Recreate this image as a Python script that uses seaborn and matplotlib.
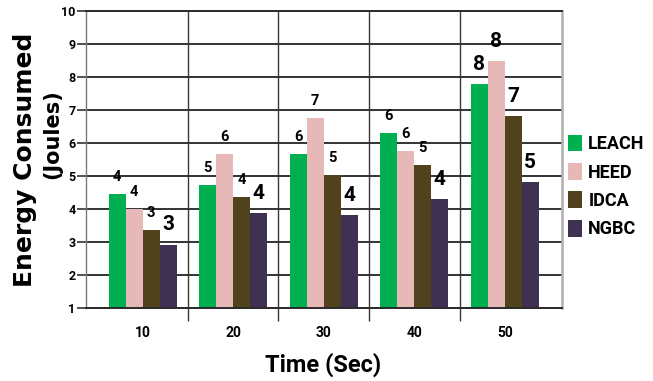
import matplotlib
matplotlib.use("Agg")
import matplotlib.pyplot as plt
from matplotlib import font_manager
from matplotlib.patches import Patch
import numpy as np
import pandas as pd
import seaborn as sns

# Energy consumed per protocol over simulation time
times = ["10", "20", "30", "40", "50"]
protocols = ["LEACH", "HEED", "IDCA", "NGBC"]
leach = [4.46, 4.73, 5.67, 6.30, 7.79]
heed = [4.00, 5.67, 6.76, 5.76, 8.48]
idca = [3.37, 4.37, 5.03, 5.34, 6.82]
ngbc = [2.92, 3.88, 3.82, 4.31, 4.81]
y_ticks = [1, 2, 3, 4, 5, 6, 7, 8, 9, 10]

colors = {"LEACH": "#00B050", "HEED": "#E6B8B7", "IDCA": "#50421C", "NGBC": "#3F3151"}

series = {"LEACH": leach, "HEED": heed, "IDCA": idca, "NGBC": ngbc}
df = pd.DataFrame(
    [(t, p, v) for p in protocols for t, v in zip(times, series[p])],
    columns=["Time", "Protocol", "Energy"],
)

sns.set_style("white")
installed = {f.name for f in font_manager.fontManager.ttflist}
main_font = "Roboto" if "Roboto" in installed else "DejaVu Sans"
plt.rcParams["font.family"] = [main_font, "DejaVu Sans"]
plt.rcParams["text.color"] = "black"
plt.rcParams["xtick.color"] = "black"
plt.rcParams["ytick.color"] = "black"

W, H = 653, 381
fig = plt.figure(figsize=(W / 100, H / 100), dpi=100)
ax = fig.add_axes([85.7 / W, 1 - 308.3 / H, 476 / W, 297.3 / H])

sns.barplot(
    data=df, x="Time", y="Energy", hue="Protocol", order=times,
    hue_order=protocols, palette=colors, width=0.75, gap=0,
    saturation=1, ax=ax, legend=False, errorbar=None,
    edgecolor="none", linewidth=0,
)

ax.set_ylim(1, 10)
ax.set_xlim(-0.628, 4.628)
ax.set_yticks(y_ticks)
ax.set_axisbelow(True)

# horizontal gridlines and category separators
ax.yaxis.grid(True, color="#333333", lw=1.4)
ax.set_xticks([0.5, 1.5, 2.5, 3.5], minor=True)
ax.xaxis.grid(True, which="minor", color="#3a3a3a", lw=1.0)
ax.tick_params(axis="x", which="minor", direction="out", length=9.5, width=1.0,
               color="#3a3a3a", bottom=True)
ax.tick_params(axis="x", which="major", length=0, pad=13, labelsize=10)
ax.tick_params(axis="y", direction="out", length=6.5, width=1.2, color="#333333",
               pad=0.8, labelsize=9, left=True)
for lab in ax.get_xticklabels() + ax.get_yticklabels():
    lab.set_fontweight("bold")

for side in ["top", "bottom"]:
    ax.spines[side].set_color("#2a2a2a")
    ax.spines[side].set_linewidth(1.4)
ax.spines["left"].set_color("#777777")
ax.spines["left"].set_linewidth(1.0)
ax.spines["right"].set_color("#b0b0b0")
ax.spines["right"].set_linewidth(1.8)

ax.set_xlabel("")
ax.set_ylabel("")

# value labels above each bar
for p, container in zip(protocols, ax.containers):
    vals = series[p]
    texts = ax.bar_label(container, labels=[f"{v:.0f}" for v in vals],
                         padding=7.5, fontweight="bold", fontsize=10.5)
    for t, txt in zip(times, texts):
        if p == "NGBC" or t == "50":
            txt.set_fontsize(15)

fig.text(323 / W, 1 - 365 / H, "Time (Sec)", ha="center", va="center",
         fontsize=17, fontweight="bold")

# two-line rotated y-axis title
fig.text(32 / W, 1 - 160 / H, "Energy Consumed", rotation=90,
         rotation_mode="anchor", ha="center", va="baseline",
         fontsize=18, fontweight="bold", family="DejaVu Sans")
fig.text(58.5 / W, 1 - 134.5 / H, "(Joules)", rotation=90,
         rotation_mode="anchor", ha="center", va="baseline",
         fontsize=15, fontweight="bold", family="DejaVu Sans")

handles = [Patch(facecolor=colors[p], edgecolor="none", label=p) for p in protocols]
fig.legend(handles=handles, loc="center left",
           bbox_to_anchor=(568.3 / W, 1 - 186.5 / H), frameon=False,
           borderpad=0, borderaxespad=0, handlelength=0.76, handleheight=1.05,
           handletextpad=0.35, labelspacing=0.55,
           prop={"weight": "bold", "size": 13})

fig.savefig("out.png", dpi=100)
